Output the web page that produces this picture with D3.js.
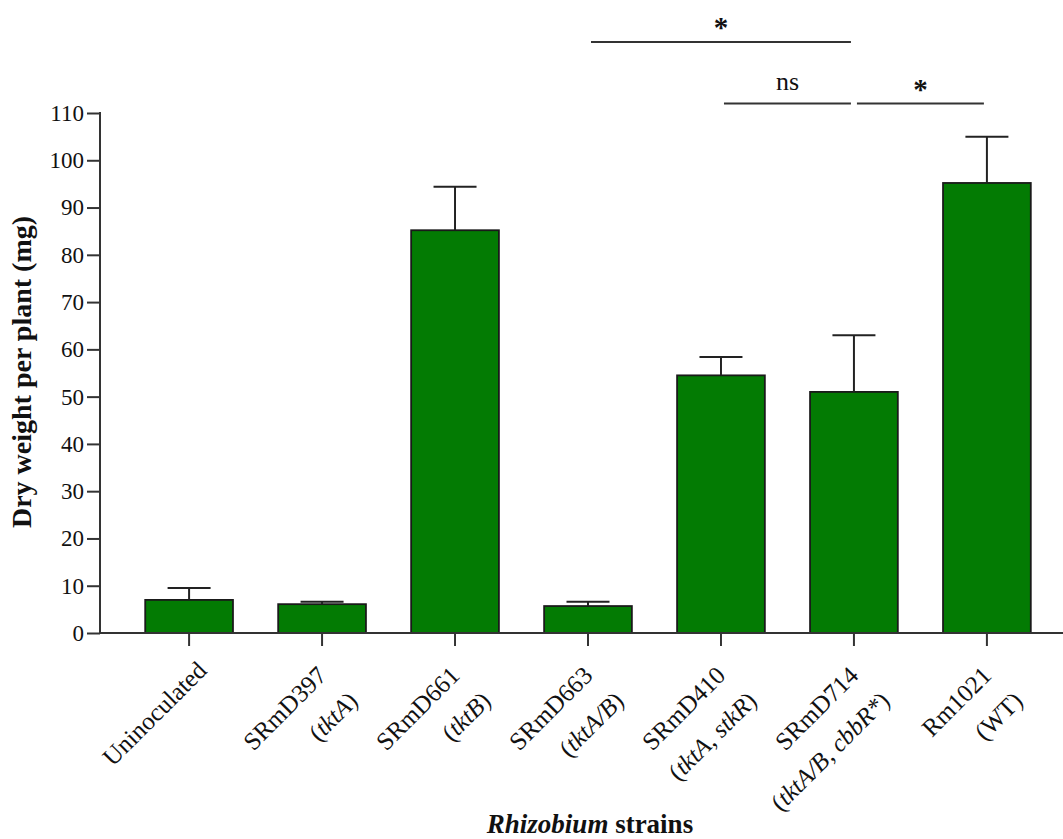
<!DOCTYPE html>
<html>
<head>
<meta charset="utf-8">
<script src="https://cdn.jsdelivr.net/npm/d3@7"></script>
<style>
  body { margin: 0; background: #fff; }
  svg text { font-family: "Liberation Serif", "Times New Roman", serif; fill: #111; }
</style>
</head>
<body>
<svg id="chart" width="1063" height="839"></svg>
<script>
// Data
const strains = ["Uninoculated", "SRmD397", "SRmD661", "SRmD663", "SRmD410", "SRmD714", "Rm1021"];
const genotypes = ["", "tktA", "tktB", "tktA/B", "tktA, stkR", "tktA/B, cbbR*", "WT"];
const genotypeItalic = [false, true, true, true, true, true, false];
const means = [7.0, 6.1, 85.2, 5.7, 54.5, 51.0, 95.2];
const errors = [2.5, 0.5, 9.2, 0.9, 3.9, 12.0, 9.8];
const yTickValues = [0, 10, 20, 30, 40, 50, 60, 70, 80, 90, 100, 110];

// Significance brackets (indexes into strains)
const compFrom = [3, 4, 5];
const compTo = [5, 5, 6];
const compLabel = ["*", "ns", "*"];
const compLevel = [125, 112, 112];

const svg = d3.select("#chart");
const width = +svg.attr("width");
const axisColor = "#333";

// Scales
const y = d3.scaleLinear().domain([0, 110]).range([633, 113]);
const x = d3.scaleBand().domain(strains).range([100, 1076]).paddingInner(0.34).paddingOuter(0.34);
const cx = d => x(d) + x.bandwidth() / 2;

// Bars
svg.append("g")
    .selectAll("rect")
    .data(strains)
    .enter().append("rect")
    .attr("x", d => x(d))
    .attr("y", (d, i) => y(means[i]))
    .attr("width", x.bandwidth())
    .attr("height", (d, i) => y(0) - y(means[i]))
    .attr("fill", "#037b03")
    .attr("stroke", "#1a1a1a")
    .attr("stroke-width", 1.8);

// Error bars (upper only)
const err = svg.append("g").attr("stroke", "#222").attr("stroke-width", 2);
strains.forEach((s, i) => {
    err.append("line")
        .attr("x1", cx(s)).attr("x2", cx(s))
        .attr("y1", y(means[i])).attr("y2", y(means[i] + errors[i]));
    err.append("line")
        .attr("x1", cx(s) - 21.5).attr("x2", cx(s) + 21.5)
        .attr("y1", y(means[i] + errors[i])).attr("y2", y(means[i] + errors[i]));
});

// Y axis
const yAxis = d3.axisLeft(y).tickValues(yTickValues).tickSize(13).tickSizeOuter(0).tickPadding(3);
const gy = svg.append("g").attr("transform", "translate(100,0)").call(yAxis);
gy.select(".domain").remove();
gy.selectAll("line").attr("stroke", axisColor).attr("stroke-width", 2);
gy.selectAll("text").attr("font-size", 23).attr("fill", "#111")
    .style("font-family", "'Liberation Serif', serif");
gy.append("line")
    .attr("x1", 0).attr("x2", 0).attr("y1", y(110) - 1).attr("y2", y(0))
    .attr("stroke", axisColor).attr("stroke-width", 2);

// X axis
const xAxis = d3.axisBottom(x).tickSize(13).tickSizeOuter(0).tickFormat("");
const gx = svg.append("g").attr("transform", `translate(0,${y(0)})`).call(xAxis);
gx.select(".domain").remove();
gx.selectAll("line").attr("stroke", axisColor).attr("stroke-width", 2);
gx.append("line")
    .attr("x1", 99).attr("x2", width).attr("y1", 0).attr("y2", 0)
    .attr("stroke", axisColor).attr("stroke-width", 2);

// Rotated category labels
strains.forEach((s, i) => {
    const twoLines = genotypes[i] !== "";
    const ax = twoLines ? cx(s) + 6 : cx(s) + 19;
    const ay = twoLines ? 677 : 672;
    const g = svg.append("g")
        .attr("transform", `translate(${ax},${ay}) rotate(-45)`)
        .attr("font-size", 25);
    g.append("text").attr("text-anchor", "end").text(s);
    if (twoLines) {
        const t = g.append("text").attr("text-anchor", "end").attr("x", 4).attr("y", 40);
        t.append("tspan").text("(");
        t.append("tspan").attr("font-style", genotypeItalic[i] ? "italic" : "normal").text(genotypes[i]);
        t.append("tspan").text(")");
    }
});

// Axis titles
svg.append("text")
    .attr("transform", "translate(31,372) rotate(-90)")
    .attr("text-anchor", "middle")
    .attr("font-size", 28)
    .attr("font-weight", "bold")
    .text("Dry weight per plant (mg)");

const xt = svg.append("text")
    .attr("x", 590).attr("y", 833)
    .attr("text-anchor", "middle")
    .attr("font-size", 27)
    .attr("font-weight", "bold");
xt.append("tspan").attr("font-style", "italic").text("Rhizobium");
xt.append("tspan").text(" strains");

// Significance lines
const sig = svg.append("g");
compFrom.forEach((a, k) => {
    const x1 = cx(strains[a]) + 3;
    const x2 = cx(strains[compTo[k]]) - 3;
    const ly = y(compLevel[k]);
    sig.append("line")
        .attr("x1", x1).attr("x2", x2).attr("y1", ly).attr("y2", ly)
        .attr("stroke", axisColor).attr("stroke-width", 2);
    const star = compLabel[k] === "*";
    sig.append("text")
        .attr("x", (x1 + x2) / 2)
        .attr("y", star ? ly - 5 : ly - 14)
        .attr("text-anchor", "middle")
        .attr("font-size", star ? 29 : 26)
        .attr("font-weight", star ? "bold" : "normal")
        .text(compLabel[k]);
});
</script>
</body>
</html>
